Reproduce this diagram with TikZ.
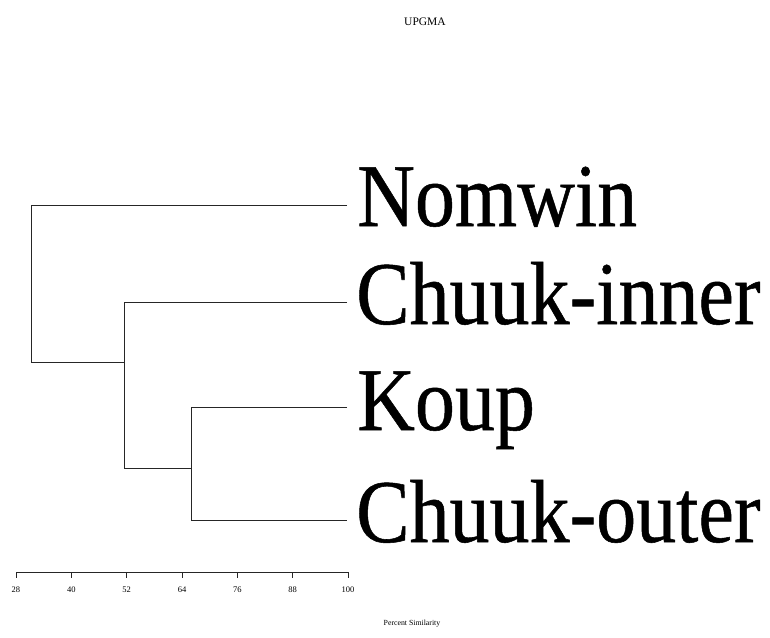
\documentclass[tikz,border=0pt]{standalone}
\usepackage{fontspec}
\setmainfont{Liberation Serif}
\newfontfamily\leaffont[FakeBold=0.6]{Liberation Serif}
\begin{document}
\begin{tikzpicture}[x=1pt,y=-1pt,
  branch/.style={line width=0.7pt,draw=black!85},
  leaf/.style={anchor=base west,inner sep=0pt,font=\leaffont\fontsize{80}{80}\selectfont},
  ticklab/.style={anchor=base,inner sep=0pt,font=\fontsize{8.5}{9}\selectfont},
  small/.style={anchor=base,inner sep=0pt}]
\useasboundingbox (0,0) rectangle (770,637);
% title
\node[small,font=\fontsize{11.5}{12}\selectfont] (title) at (425,25) {UPGMA};
% leaf labels
\node[leaf] (nomwin) at (357,226) {\scalebox{1}[1.12]{Nomwin}};
\node[leaf] (cinner) at (356,324) {\scalebox{1}[1.12]{Chuuk-inner}};
\node[leaf] (koup) at (357,430) {\scalebox{1}[1.12]{Koup}};
\node[leaf] (couter) at (356,542) {\scalebox{1}[1.12]{Chuuk-outer}};
% leaf line ends
\coordinate (e1) at (347,205);
\coordinate (e2) at (347,302);
\coordinate (e3) at (347,407);
\coordinate (e4) at (347,520);
% internal nodes
\coordinate (r1) at (31,205);
\coordinate (r2) at (31,362);
\coordinate (n2a) at (124,302);
\coordinate (n2m) at (124,362);
\coordinate (n2b) at (124,468);
\coordinate (n3a) at (191,407);
\coordinate (n3m) at (191,468);
\coordinate (n3b) at (191,520);
\draw[branch] (e1) -- (r1) -- (r2) -- (n2m);
\draw[branch] (e2) -- (n2a) -- (n2b) -- (n3m);
\draw[branch] (e3) -- (n3a) -- (n3b) -- (e4);
% scale
\coordinate (s0) at (16,572);
\coordinate (s1) at (348,572);
\draw[branch] (s0) -- (s1);
\foreach \v in {28,40,52,64,76,88,100}{
  \coordinate (t\v) at ({16+(\v-28)*4.6111},572);
  \draw[branch] (t\v) -- ++(0,6);
  \node[ticklab] (l\v) at ({16+(\v-28)*4.6111},592) {\v};
}
\node[small,font=\fontsize{7.8}{8}\selectfont] (xlabel) at (412,625) {Percent Similarity};
\end{tikzpicture}
\end{document}
